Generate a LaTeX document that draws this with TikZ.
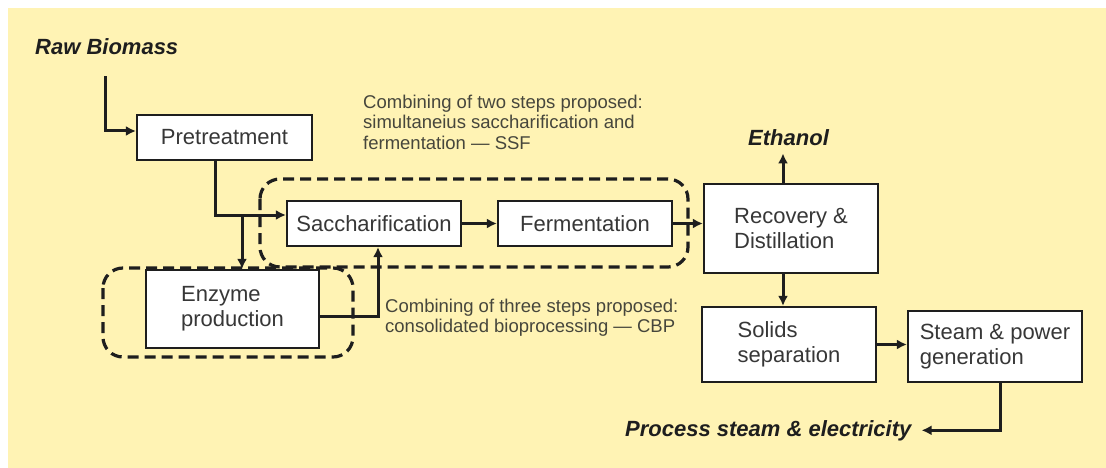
\documentclass[tikz,border=0pt]{standalone}
\usepackage{fontspec}
\setmainfont{Liberation Sans}
\usetikzlibrary{arrows.meta}
\definecolor{bgyellow}{RGB}{255,243,180}
\definecolor{boxtext}{RGB}{55,55,55}
\definecolor{linecol}{RGB}{30,30,30}
\definecolor{notetext}{RGB}{70,70,60}
\begin{document}
\begin{tikzpicture}[x=1pt,y=-1pt,
  procbox/.style={draw=linecol, line width=2.2pt, fill=white, inner sep=0pt, align=left,
    text=boxtext, font=\fontsize{22}{25}\selectfont},
  flowlabel/.style={inner sep=0pt, text=linecol, font=\fontsize{22}{25}\selectfont\bfseries\itshape},
  note/.style={inner sep=0pt, align=left, text=notetext, font=\fontsize{18.5}{20.8}\selectfont},
  arr/.style={draw=linecol, line width=3pt, -{Latex[length=10pt,width=10pt]}},
  dashbox/.style={draw=linecol, line width=3.2pt, dash pattern=on 11pt off 6pt, rounded corners=20pt}]
\useasboundingbox (0,0) rectangle (1106,468);
\fill[bgyellow] (8,8) rectangle (1106,468);

% process boxes
\node[procbox, minimum width=175pt, minimum height=45pt] (pre) at (224.5,137.5) {Pretreatment};
\node[procbox, minimum width=174pt, minimum height=45pt] (sac) at (374,223.5) {Saccharification};
\node[procbox, minimum width=174pt, minimum height=45pt] (fer) at (585,223.5) {Fermentation};
\node[procbox, minimum width=173pt, minimum height=78pt] (enz) at (232.5,309) {Enzyme\\production};
\node[procbox, minimum width=174pt, minimum height=89pt] (rec) at (791,228.5) {Recovery \&\\Distillation};
\node[procbox, minimum width=174pt, minimum height=75pt] (sol) at (789,344.5) {Solids\\separation};
\node[procbox, minimum width=174pt, minimum height=71pt] (stm) at (995,346.5) {Steam \& power\\generation};

% flow labels
\node[flowlabel, anchor=base west] (raw) at (35,55) {Raw Biomass};
\node[flowlabel, anchor=base west] (eth) at (748,146) {Ethanol};
\node[flowlabel, anchor=base west] (proc) at (625,436) {Process steam \& electricity};

% notes
\node[note, anchor=north west] (ssf) at (363,94.5) {Combining of two steps proposed:\\simultaneius saccharification and\\fermentation — SSF};
\node[note, anchor=north west] (cbp) at (385,298.5) {Combining of three steps proposed:\\consolidated bioprocessing — CBP};

% helper coordinates
\coordinate (rawx) at (105,131);
\coordinate (prex) at (215,215);
\coordinate (split) at (242,215);
\coordinate (enzx) at (378,316);
\coordinate (recx) at (783,0);
\coordinate (stmx) at (1000,0);

% connectors
\draw[arr, shorten <=21pt] (raw.south -| rawx) |- (pre.west |- rawx);
\draw[arr] (pre.south -| prex) |- (sac.west |- prex);
\draw[arr] (split) -- (enz.north -| split);
\draw[arr] (enz.east |- enzx) -| (sac.south -| enzx);
\draw[arr] (sac.east) -- (fer.west);
\draw[arr] (fer.east) -- (rec.west |- fer.east);
\draw[arr, shorten >=7pt] (rec.north -| recx) -- (eth.south -| recx);
\draw[arr] (rec.south -| recx) -- (sol.north -| recx);
\draw[arr] (sol.east) -- (stm.west |- sol.east);
\draw[arr, shorten >=10pt] (stm.south -| stmx) |- (proc.east);

% dashed groupings
\draw[dashbox] (260,179) rectangle (688,267);
\draw[dashbox] (103,268) rectangle (353,357);
\end{tikzpicture}
\end{document}
